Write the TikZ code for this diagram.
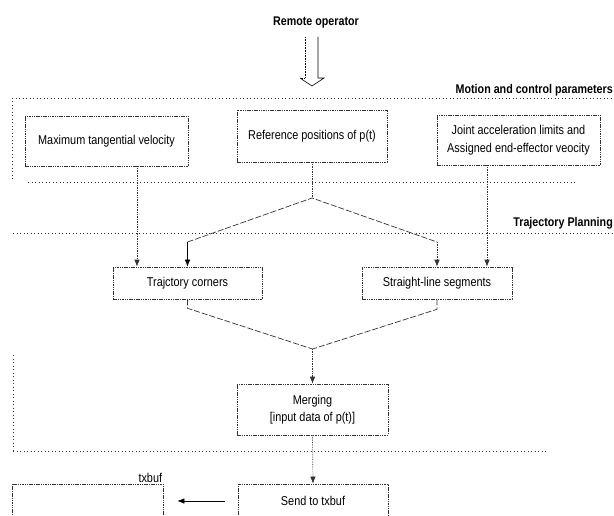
\documentclass[tikz,border=0pt]{standalone}
\usepackage{fontspec}
\setmainfont{Liberation Sans}[FakeStretch=0.85]
\usetikzlibrary{arrows.meta}

\begin{document}
\begin{tikzpicture}[>={Latex[length=7pt,width=5.5pt]}, x=1pt, y=-1pt]
			\definecolor{scang}{gray}{0.2}
			\tikzset{
				blk/.style={draw=scang, dash pattern=on 1.5pt off 0.8pt, line width=0.6pt, inner sep=2pt, align=center, font=\fontsize{12.8}{17.5}\selectfont},
				hd/.style={inner sep=0pt, font=\fontsize{12.6}{14}\selectfont\bfseries},
				grp/.style={draw=scang, dash pattern=on 1pt off 2.5pt, line width=0.5pt},
				vline/.style={draw=scang, densely dotted, line width=0.7pt},
				dline/.style={draw=scang, dash pattern=on 6pt off 2pt, line width=0.7pt}
			}
				\useasboundingbox (0,0) rectangle (614,516);
				\clip (0,0) rectangle (614,516);

				\draw[grp] (12,98)--(613,98);
				\draw[grp] (28,182)--(577,182);
				\draw[grp] (13,233)--(613,233);
				\draw[grp] (13,451)--(548,451);
				\draw[grp] (12,98)--(12,182);
				\draw[grp] (13,355)--(13,451);

				\node[hd] (remote) at (316,22) {Remote operator};
				\node[hd, anchor=east] (motion) at (613,90) {Motion and control parameters};
				\node[hd, anchor=east] (planning) at (613,223) {Trajectory Planning};

				\draw[line width=0.6pt, densely dotted] (305,37)--(305,78)--(300,78);
				\draw[line width=0.6pt] (300,78)--(312,86)--(324,78)--(318,78)--(318,37);

				\node[blk, minimum width=163pt, minimum height=50pt] (maxvel) at (106.5,141) {Maximum tangential velocity};
				\node[blk, minimum width=150pt, minimum height=52pt] (refpos) at (312,136) {Reference positions of p(t)};
				\node[blk, minimum width=163pt, minimum height=50pt] (jointlim) at (518.5,140) {Joint acceleration limits and\\Assigned end-effector veocity};
				\node[blk, minimum width=149pt, minimum height=32pt] (corners) at (187.5,283) {Trajctory corners};
				\node[blk, minimum width=150pt, minimum height=32pt] (segments) at (437,283) {Straight-line segments};
				\node[blk, minimum width=151pt, minimum height=51pt] (merging) at (312.5,409.5) {Merging\\{[}input data of p(t)]};
				\node[blk, minimum width=150pt, minimum height=34pt] (sendbuf) at (313,501) {Send to txbuf};
				\node[blk, minimum width=151pt, minimum height=34pt, label={[anchor=south east, inner sep=1pt, font=\fontsize{12.8}{14}\selectfont]north east:txbuf}] (txbuf) at (87.5,501) {};

				\coordinate (split) at (312,198);
				\coordinate (lbend) at (187.5,242);
				\coordinate (rbend) at (437,242);
				\coordinate (join) at (312.5,349);

				\draw[vline] (refpos.south) -- (split);
				\draw[dline] (lbend) -- (split) -- (rbend);
				\draw[line width=0.6pt, ->] (lbend) -- (corners.north);
				\draw[vline, ->] (rbend) -- (segments.north);
				\draw[vline, ->] ([xshift=30.5pt]maxvel.south) -- ([xshift=30.5pt]maxvel.south |- corners.north);
				\draw[vline, ->] ([xshift=-31.5pt]jointlim.south) -- ([xshift=-31.5pt]jointlim.south |- segments.north);
				\draw[dline] (corners.south) -- ++(0,9) -- (join);
				\draw[dline] (segments.south) -- ++(0,10) -- (join);
				\draw[vline, ->] (join) -- (merging.north);
				\draw[vline, ->] (merging.south) -- (sendbuf.north);
				\draw[line width=0.6pt, ->, shorten <=13pt, shorten >=14pt] (sendbuf.west) -- (txbuf.east);
		\end{tikzpicture}
\end{document}
